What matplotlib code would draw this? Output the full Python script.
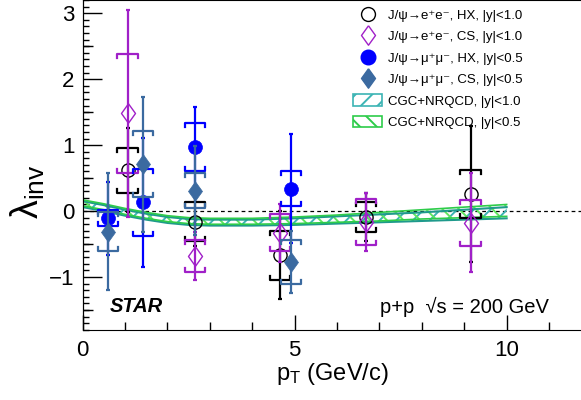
import matplotlib
matplotlib.use("Agg")
import matplotlib.pyplot as plt
from matplotlib.lines import Line2D
from matplotlib.patches import Patch
from matplotlib.ticker import MultipleLocator, FixedLocator, NullFormatter

plt.rcParams['font.family'] = ['Liberation Sans', 'DejaVu Sans']
plt.rcParams['mathtext.fontset'] = 'custom'
plt.rcParams['mathtext.rm'] = 'Liberation Sans'
plt.rcParams['mathtext.it'] = 'Liberation Sans:italic'
plt.rcParams['hatch.linewidth'] = 1.4

# J/psi -> e+e-, |y|<1.0
ee_pt = [1.06, 2.65, 4.65, 6.68, 9.15]
ee_hx = [0.62, -0.16, -0.67, -0.09, 0.26]
ee_hx_stat = [0.64, 0.37, 0.67, 0.37, 1.03]
ee_hx_sys = [0.34, 0.29, 0.37, 0.22, 0.36]
ee_cs = [1.48, -0.68, -0.33, -0.17, -0.18]
ee_cs_stat = [1.57, 0.37, 0.44, 0.44, 0.75]
ee_cs_sys = [0.90, 0.24, 0.28, 0.35, 0.35]

# J/psi -> mu+mu-, |y|<0.5
mm_pt = [0.60, 1.43, 2.65, 4.91]
mm_hx = [-0.11, 0.13, 0.97, 0.34]
mm_hx_stat = [0.55, 0.98, 0.61, 0.83]
mm_hx_sys = [0.12, 0.51, 0.36, 0.26]
mm_cs = [-0.31, 0.71, 0.31, -0.77]
mm_cs_stat = [0.88, 1.02, 0.68, 0.47]
mm_cs_sys = [0.30, 0.50, 0.26, 0.33]

# CGC+NRQCD bands
band_pt = [0, 0.5, 1, 1.5, 2, 2.5, 3, 4, 5, 6, 7, 8, 9, 10]
band10_lo = [0.06, 0.00, -0.07, -0.13, -0.18, -0.21, -0.22, -0.22, -0.21, -0.19, -0.17, -0.15, -0.13, -0.11]
band10_hi = [0.15, 0.09, 0.02, -0.04, -0.09, -0.12, -0.13, -0.13, -0.11, -0.08, -0.05, -0.02, 0.02, 0.06]
band05_lo = [0.08, 0.02, -0.05, -0.11, -0.16, -0.19, -0.20, -0.20, -0.19, -0.17, -0.15, -0.12, -0.10, -0.08]
band05_hi = [0.17, 0.11, 0.04, -0.02, -0.07, -0.10, -0.11, -0.11, -0.09, -0.06, -0.02, 0.02, 0.06, 0.10]

BLACK = 'black'
PURPLE = '#a020c8'
BLUE = '#0000ff'
STEEL = '#3b6aa0'
TEAL = '#1f9a8c'
TEAL_H = '#3cb4b4'
GREEN = '#2ecc4a'
GREEN_H = '#5ee65e'

DIAMOND = [(0, 1), (0.72, 0), (0, -1), (-0.72, 0), (0, 1)]


def draw_sys(ax, x, y, sys, color, z, hw=0.24, hook=0.06):
    """ROOT-style bracket systematics."""
    for xi, yi, si in zip(x, y, sys):
        top = yi + si
        bot = yi - si
        ax.plot([xi - hw, xi - hw, xi + hw, xi + hw], [top - hook, top, top, top - hook],
                color=color, lw=1.6, zorder=z)
        ax.plot([xi - hw, xi - hw, xi + hw, xi + hw], [bot + hook, bot, bot, bot + hook],
                color=color, lw=1.6, zorder=z)


def draw_series(ax, x, y, stat, sys, color, marker, filled, ms, z):
    ax.errorbar(x, y, yerr=stat, fmt='none', ecolor=color, elinewidth=1.6,
                capsize=1.5, capthick=1.6, zorder=z)
    draw_sys(ax, x, y, sys, color, z)
    ax.plot(x, y, ls='none', marker=marker, ms=ms,
            mfc=color if filled else 'none', mec=color,
            mew=1.0 if not filled else 0.5, zorder=z + 0.1)


fig = plt.figure(figsize=(5.81, 4.0), dpi=100)
ax = fig.add_axes([0.1423, 0.1755, 0.8757, 0.8245])
ax.set_xlim(0, 12)
ax.set_ylim(-1.8, 3.2)

# bands
ax.fill_between(band_pt, band10_lo, band10_hi, facecolor='none', edgecolor=TEAL_H,
                hatch='//', lw=0, zorder=1.5)
ax.fill_between(band_pt, band05_lo, band05_hi, facecolor='none', edgecolor=GREEN_H,
                hatch='\\\\', lw=0, zorder=1.6)
ax.plot(band_pt, band10_lo, color=TEAL, lw=1.5, zorder=1.7)
ax.plot(band_pt, band10_hi, color=TEAL, lw=1.5, zorder=1.7)
ax.plot(band_pt, band05_lo, color=GREEN, lw=1.2, zorder=1.8)
ax.plot(band_pt, band05_hi, color=GREEN, lw=1.2, zorder=1.8)

ax.axhline(0, color='black', lw=0.9, ls=(0, (3, 2.5)), zorder=1.2)

draw_series(ax, ee_pt, ee_hx, ee_hx_stat, ee_hx_sys, BLACK, 'o', False, 9.5, 3)
draw_series(ax, ee_pt, ee_cs, ee_cs_stat, ee_cs_sys, PURPLE, DIAMOND, False, 14, 4)
draw_series(ax, mm_pt, mm_hx, mm_hx_stat, mm_hx_sys, BLUE, 'o', True, 10, 5)
draw_series(ax, mm_pt, mm_cs, mm_cs_stat, mm_cs_sys, STEEL, DIAMOND, True, 14, 6)

# axes styling
ax.xaxis.set_major_locator(MultipleLocator(5))
ax.xaxis.set_minor_locator(MultipleLocator(1))
ax.tick_params(axis='x', which='major', direction='in', length=11, width=1,
               labelsize=16, pad=7, top=False)
ax.tick_params(axis='x', which='minor', direction='in', length=6, width=1, top=False)

ax.yaxis.set_major_locator(MultipleLocator(1))
ax.yaxis.set_minor_locator(MultipleLocator(0.1))
ax.tick_params(axis='y', which='major', direction='in', length=14, width=1,
               labelsize=16, pad=6, right=False)
ax.tick_params(axis='y', which='minor', direction='in', length=4, width=1, right=False)

# medium ticks at half-integers
sec = ax.secondary_yaxis('left')
sec.yaxis.set_major_locator(FixedLocator([-1.5, -0.5, 0.5, 1.5, 2.5]))
sec.yaxis.set_major_formatter(NullFormatter())
sec.tick_params(axis='y', which='major', direction='in', length=7, width=1)
sec.tick_params(axis='y', which='minor', length=0)

ax.set_xlabel('p$_{\\rm T}$ (GeV/c)', fontsize=17)
ax.xaxis.set_label_coords(0.49, -0.095)
ax.set_ylabel('λ$_{\\rm inv}$', fontsize=27)
ax.yaxis.set_label_coords(-0.07, 0.42)

ax.text(0.054, 0.054, 'STAR', transform=ax.transAxes, fontsize=14.5,
        fontweight='bold', fontstyle='italic', ha='left', va='baseline')
ax.text(0.584, 0.052, 'p+p  √s = 200 GeV', transform=ax.transAxes, fontsize=14.5,
        ha='left', va='baseline')

handles = [
    Line2D([], [], ls='none', marker='o', mfc='none', mec=BLACK, ms=10, mew=1.0),
    Line2D([], [], ls='none', marker=DIAMOND, mfc='none', mec=PURPLE, ms=14, mew=1.0),
    Line2D([], [], ls='none', marker='o', mfc=BLUE, mec=BLUE, ms=10.5),
    Line2D([], [], ls='none', marker=DIAMOND, mfc=STEEL, mec=STEEL, ms=14),
    Patch(facecolor='none', edgecolor=TEAL_H, hatch='//', lw=1.2),
    Patch(facecolor='none', edgecolor=GREEN, hatch='\\\\', lw=1.2),
]
labels = [
    'J/ψ→e⁺e⁻, HX, |y|<1.0',
    'J/ψ→e⁺e⁻, CS, |y|<1.0',
    'J/ψ→μ⁺μ⁻, HX, |y|<0.5',
    'J/ψ→μ⁺μ⁻, CS, |y|<0.5',
    'CGC+NRQCD, |y|<1.0',
    'CGC+NRQCD, |y|<0.5',
]
fig.legend(handles, labels, loc='upper left', bbox_to_anchor=(353 / 581, 0.978),
           frameon=False, fontsize=9.5, borderpad=0, borderaxespad=0,
           handlelength=2.2, handleheight=0.95, handletextpad=0.45,
           labelspacing=0.62)

fig.savefig('out.png', dpi=100)
